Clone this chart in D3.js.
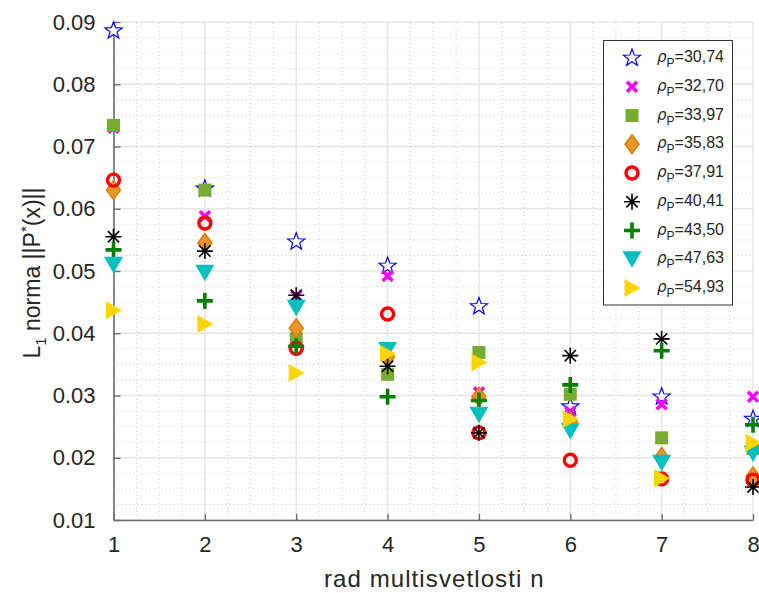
<!DOCTYPE html>
<html>
<head>
<meta charset="utf-8">
<script src="https://cdn.jsdelivr.net/npm/d3@7"></script>
<style>
  html, body { margin: 0; padding: 0; background: #fff; }
  svg { display: block; font-family: "Liberation Sans", Arial, Helvetica, sans-serif; }
</style>
</head>
<body>
<svg id="chart" width="759" height="593"></svg>
<script>
// Order of multi-luminosity n
const orders = [1, 2, 3, 4, 5, 6, 7, 8];

// ρ_P values (legend labels)
const rhoLabels = ["30,74", "32,70", "33,97", "35,83", "37,91", "40,41", "43,50", "47,63", "54,93"];

// L1 norm ||P*(x)|| for each ρ_P, over n = 1..8
const s3074 = [0.0886, 0.0632, 0.0547, 0.0508, 0.0443, 0.0282, 0.0298, 0.0262];
const s3270 = [0.0730, 0.0588, 0.0460, 0.0492, 0.0305, 0.0274, 0.0286, 0.0298];
const s3397 = [0.0734, 0.0630, 0.0391, 0.0334, 0.0369, 0.0302, 0.0232, 0.0215];
const s3583 = [0.0630, 0.0545, 0.0408, 0.0362, 0.0298, 0.0258, 0.0201, 0.0170];
const s3791 = [0.0646, 0.0577, 0.0376, 0.0431, 0.0240, 0.0196, 0.0166, 0.0164];
const s4041 = [0.0555, 0.0532, 0.0461, 0.0347, 0.0240, 0.0364, 0.0391, 0.0153];
const s4350 = [0.0534, 0.0452, 0.0379, 0.0298, 0.0292, 0.0317, 0.0372, 0.0253];
const s4763 = [0.0510, 0.0497, 0.0441, 0.0373, 0.0269, 0.0243, 0.0192, 0.0207];
const s5493 = [0.0437, 0.0415, 0.0336, 0.0367, 0.0353, 0.0262, 0.0167, 0.0224];

const seriesValues = [s3074, s3270, s3397, s3583, s3791, s4041, s4350, s4763, s5493];

// y-axis ticks
const yTicks = [0.01, 0.02, 0.03, 0.04, 0.05, 0.06, 0.07, 0.08, 0.09];

// Marker styles per series
const markerStyles = [
  { shape: "star",     stroke: "#0000ff", fill: "#ffffff", width: 1.2 },
  { shape: "cross",    stroke: "#ff00ff", fill: "none",    width: 3.6 },
  { shape: "square",   stroke: "#77ac30", fill: "#77ac30", width: 0 },
  { shape: "diamond",  stroke: "#d97d0b", fill: "#e8952a", width: 1.5 },
  { shape: "circle",   stroke: "#ff0000", fill: "none",    width: 3.4 },
  { shape: "asterisk", stroke: "#000000", fill: "none",    width: 1.6 },
  { shape: "plus",     stroke: "#008000", fill: "none",    width: 3.6 },
  { shape: "tridown",  stroke: "#00bfbf", fill: "#00bfbf", width: 0 },
  { shape: "triright", stroke: "#ffd500", fill: "#ffd500", width: 0 }
];

const svg = d3.select("#chart");
const W = 759, H = 593;
const m = { left: 113.5, right: 6, top: 22, bottom: 73 };
const plotW = W - m.left - m.right;
const plotH = H - m.top - m.bottom;

const x = d3.scaleLinear().domain([1, 8]).range([m.left, m.left + plotW]);
const y = d3.scaleLinear().domain([0.01, 0.09]).range([m.top + plotH, m.top]);

// Grid: minor dotted lines
const grid = svg.append("g");
const xMinor = d3.range(1, 8.001, 0.25).filter(v => Math.abs(v - Math.round(v)) > 1e-6);
const yMinor = d3.range(0.01, 0.09001, 0.0025).filter(v => Math.abs(v * 100 - Math.round(v * 100)) > 1e-6);
grid.selectAll("line.xm").data(xMinor).join("line")
  .attr("x1", d => x(d)).attr("x2", d => x(d))
  .attr("y1", y(0.01)).attr("y2", y(0.09))
  .attr("stroke", "#c8c8c8").attr("stroke-width", 1).attr("stroke-dasharray", "1,3");
grid.selectAll("line.ym").data(yMinor).join("line")
  .attr("y1", d => y(d)).attr("y2", d => y(d))
  .attr("x1", x(1)).attr("x2", x(8))
  .attr("stroke", "#c8c8c8").attr("stroke-width", 1).attr("stroke-dasharray", "1,3");

// Grid: major solid lines
grid.selectAll("line.xM").data(orders).join("line")
  .attr("x1", d => x(d)).attr("x2", d => x(d))
  .attr("y1", y(0.01)).attr("y2", y(0.09))
  .attr("stroke", "#e6e6e6").attr("stroke-width", 1.5);
grid.selectAll("line.yM").data(yTicks).join("line")
  .attr("y1", d => y(d)).attr("y2", d => y(d))
  .attr("x1", x(1)).attr("x2", x(8))
  .attr("stroke", "#e6e6e6").attr("stroke-width", 1.5);

// Axes
const axisColor = "#6e6e6e";
const xAxis = svg.append("g")
  .attr("transform", `translate(0,${y(0.01)})`)
  .call(d3.axisBottom(x).tickValues(orders).tickFormat(d3.format("d")).tickSizeInner(-6).tickSizeOuter(0).tickPadding(16));
const yAxis = svg.append("g")
  .attr("transform", `translate(${x(1)},0)`)
  .call(d3.axisLeft(y).tickValues(yTicks).tickFormat(d3.format(".2f")).tickSizeInner(-7).tickSizeOuter(0).tickPadding(18));
[xAxis, yAxis].forEach(a => {
  a.select(".domain").attr("stroke", axisColor).attr("stroke-width", 1.6);
  a.selectAll(".tick line").attr("stroke", axisColor).attr("stroke-width", 1.4);
  a.selectAll(".tick text").attr("fill", "#262626").attr("font-size", 22)
    .attr("font-family", "\"Liberation Sans\", Arial, sans-serif");
});
xAxis.selectAll(".tick text").attr("dy", "0.71em");

// Axis titles
svg.append("text")
  .attr("x", (x(1) + x(8)) / 2 + 1).attr("y", 587)
  .attr("text-anchor", "middle").attr("font-size", 24).attr("letter-spacing", 1.1)
  .attr("fill", "#262626")
  .text("rad multisvetlosti n");

const yl = svg.append("text")
  .attr("transform", `translate(40,${(y(0.01) + y(0.09)) / 2 + 2}) rotate(-90)`)
  .attr("text-anchor", "middle").attr("font-size", 23).attr("fill", "#262626");
yl.append("tspan").text("L");
yl.append("tspan").attr("font-size", 15).attr("dy", 6).text("1");
yl.append("tspan").attr("dy", -6).text(" norma ||P");
yl.append("tspan").attr("font-size", 15).attr("dy", -9).text("*");
yl.append("tspan").attr("dy", 9).text("(x)||");

// Marker path generators (centered at 0,0)
function starPath(R, r) {
  const pts = [];
  for (let i = 0; i < 10; i++) {
    const a = -Math.PI / 2 + i * Math.PI / 5;
    const rad = i % 2 === 0 ? R : r;
    pts.push([rad * Math.cos(a), rad * Math.sin(a)]);
  }
  return "M" + pts.map(p => p.join(",")).join("L") + "Z";
}
function markerPath(shape) {
  switch (shape) {
    case "star": return starPath(9, 3.7);
    case "cross": return "M-5,-5L5,5M-5,5L5,-5";
    case "square": return "M-6.5,-6.5H6.5V6.5H-6.5Z";
    case "diamond": return "M0,-9.5L7,0L0,9.5L-7,0Z";
    case "circle": return "M6,0A6,6 0 1 1 -6,0A6,6 0 1 1 6,0Z";
    case "asterisk": {
      const r = 8, d = 8 * Math.SQRT1_2;
      return `M0,${-r}V${r}M${-r},0H${r}M${-d},${-d}L${d},${d}M${-d},${d}L${d},${-d}`;
    }
    case "plus": return "M-8,0H8M0,-8V8";
    case "tridown": return "M-9.5,-8H9.5L0,8.5Z";
    case "triright": return "M-7.5,-9L8.5,0L-7.5,9Z";
  }
}
function styleMarker(sel, st) {
  sel.attr("d", markerPath(st.shape))
    .attr("fill", st.fill)
    .attr("stroke", st.width > 0 ? st.stroke : "none")
    .attr("stroke-width", st.width)
    .attr("stroke-linecap", "butt")
    .attr("stroke-linejoin", "miter");
}

// Data markers, drawn series by series
const marks = svg.append("g");
seriesValues.forEach((vals, i) => {
  const st = markerStyles[i];
  marks.append("g").selectAll("path")
    .data(vals.map((v, k) => ({ n: orders[k], v })))
    .join("path")
    .attr("transform", d => `translate(${x(d.n)},${y(d.v)})`)
    .call(styleMarker, st);
});

// Legend
const lg = svg.append("g");
const lgX = 603.5, lgY = 40.5, lgW = 129, lgH = 264.5, rowH = 28.75;
lg.append("rect").attr("x", lgX).attr("y", lgY).attr("width", lgW).attr("height", lgH)
  .attr("fill", "#fff").attr("stroke", "#333").attr("stroke-width", 1);
rhoLabels.forEach((lab, i) => {
  const cy = lgY + 17.5 + i * rowH;
  lg.append("path").attr("transform", `translate(632,${cy})`).call(styleMarker, markerStyles[i]);
  const t = lg.append("text").attr("x", 657).attr("y", cy + 4)
    .attr("font-size", 16).attr("fill", "#262626");
  t.append("tspan").attr("font-family", "\"DejaVu Sans\", sans-serif").attr("font-style", "italic")
    .attr("font-size", 15).text("ρ");
  t.append("tspan").attr("font-size", 12).attr("dy", 5).text("P");
  t.append("tspan").attr("dy", -5).text("=" + lab);
});
</script>
</body>
</html>
